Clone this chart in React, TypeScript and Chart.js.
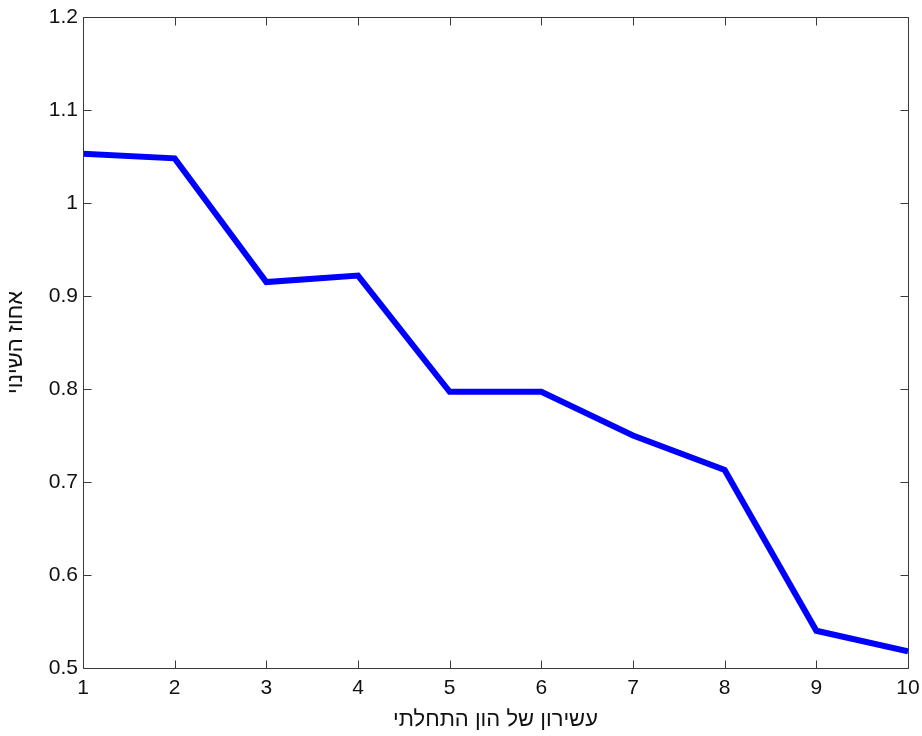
import React, { useEffect, useRef } from "react";
import { Chart, registerables } from "chart.js";

Chart.register(...registerables);

const deciles = [1, 2, 3, 4, 5, 6, 7, 8, 9, 10];
const changePct = [1.053, 1.048, 0.915, 0.922, 0.797, 0.797, 0.750, 0.713, 0.540, 0.518];
const xTitle = "עשירון של הון התחלתי";
const yTitle = "אחוז השינוי";

const FONT = "'Liberation Sans', Arial, sans-serif";

const boxPlugin = {
  id: "matlabBox",
  afterDatasetsDraw(chart: any) {
    const { ctx, chartArea: a, scales } = chart;
    ctx.save();
    ctx.strokeStyle = "#3a3a3a";
    ctx.lineWidth = 1;
    const L = Math.round(a.left) + 0.5;
    const R = Math.round(a.right) + 0.5;
    const T = Math.round(a.top) + 0.5;
    const B = Math.round(a.bottom) + 0.5;
    ctx.beginPath();
    ctx.rect(L, T, R - L, B - T);
    ctx.stroke();
    const len = 8;
    ctx.beginPath();
    scales.x.ticks.forEach((t: any) => {
      const px = Math.round(scales.x.getPixelForValue(t.value)) + 0.5;
      ctx.moveTo(px, B);
      ctx.lineTo(px, B - len);
      ctx.moveTo(px, T);
      ctx.lineTo(px, T + len);
    });
    scales.y.ticks.forEach((t: any) => {
      const py = Math.round(scales.y.getPixelForValue(t.value)) + 0.5;
      ctx.moveTo(L, py);
      ctx.lineTo(L + len, py);
      ctx.moveTo(R, py);
      ctx.lineTo(R - len, py);
    });
    ctx.stroke();
    ctx.restore();
  },
};

export default function App() {
  const ref = useRef<HTMLCanvasElement | null>(null);
  useEffect(() => {
    if (!ref.current) return;
    const chart = new Chart(ref.current, {
      type: "line",
      data: {
        datasets: [
          {
            data: deciles.map((d, i) => ({ x: d, y: changePct[i] })),
            borderColor: "#0000ff",
            borderWidth: 6,
            pointRadius: 0,
            tension: 0,
            borderJoinStyle: "miter",
            fill: false,
          },
        ],
      },
      options: {
        animation: false,
        responsive: false,
        maintainAspectRatio: false,
        layout: { padding: { left: 0, top: 17, right: 14, bottom: 0 } },
        plugins: { legend: { display: false }, tooltip: { enabled: false } },
        scales: {
          x: {
            type: "linear",
            min: 1,
            max: 10,
            ticks: {
              stepSize: 1,
              color: "#111",
              font: { family: FONT, size: 21 },
              padding: 8,
              maxRotation: 0,
            },
            grid: { display: false, drawTicks: false },
            border: { display: false },
            title: {
              display: true,
              text: xTitle,
              color: "#111",
              font: { family: FONT, size: 22 },
              padding: { top: 0, bottom: 3 },
            },
            afterFit: (s: any) => {
              s.height = 68;
              s.paddingLeft = 0;
              s.paddingRight = 0;
            },
          },
          y: {
            type: "linear",
            min: 0.5,
            max: 1.2,
            ticks: {
              stepSize: 0.1,
              color: "#111",
              font: { family: FONT, size: 21 },
              padding: 5,
              callback: (v: any) => String(+Number(v).toFixed(1)),
            },
            grid: { display: false, drawTicks: false },
            border: { display: false },
            title: {
              display: true,
              text: yTitle,
              color: "#111",
              font: { family: FONT, size: 22 },
              padding: { top: 3, bottom: 0 },
            },
            afterFit: (s: any) => {
              s.width = 83;
              s.paddingTop = 0;
              s.paddingBottom = 0;
            },
          },
        },
      },
      plugins: [boxPlugin],
    } as any);
    return () => chart.destroy();
  }, []);
  return (
    <div style={{ position: "fixed", left: 0, top: 0, width: 922, height: 736, background: "#fff" }}>
      <canvas ref={ref} width={922} height={736} style={{ display: "block", width: 922, height: 736 }} />
    </div>
  );
}
